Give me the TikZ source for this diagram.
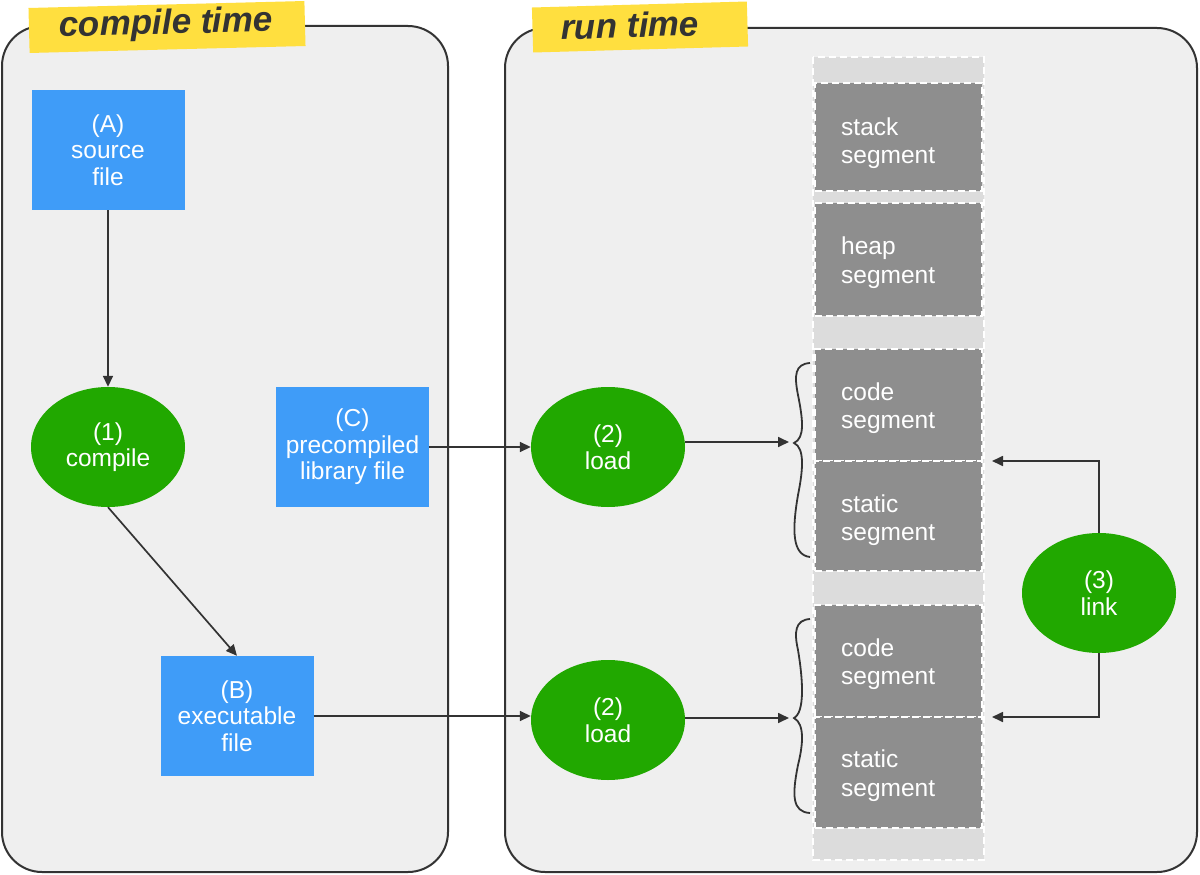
\documentclass[tikz,border=0pt]{standalone}
\usepackage{fontspec}
\setmainfont{Liberation Sans}
\usetikzlibrary{arrows.meta,shapes.geometric,calc}
\definecolor{panelfill}{HTML}{EFEFEF}
\definecolor{panelline}{HTML}{333333}
\definecolor{boxblue}{HTML}{3F9CF8}
\definecolor{opgreen}{HTML}{21A800}
\definecolor{bannercol}{HTML}{FFDF3F}
\definecolor{segdark}{HTML}{8E8E8E}
\definecolor{seglight}{HTML}{DCDCDC}
\definecolor{ink}{HTML}{333333}
\begin{document}
\begin{tikzpicture}[x=1pt,y=-1pt,
  panel/.style={draw=panelline,fill=panelfill,line width=2pt,rounded corners=40pt},
  bannerbox/.style={fill=bannercol,inner sep=0pt,minimum width=#1,minimum height=45pt},
  titletext/.style={text=ink,font=\fontsize{35}{40}\selectfont\bfseries\itshape,inner sep=0pt},
  lbl/.style={text=white,align=center,font=\fontsize{24.5}{26.5}\selectfont},
  filebox/.style={lbl,rectangle,fill=boxblue,minimum width=153pt,minimum height=120pt,inner sep=0pt},
  opnode/.style={lbl,ellipse,fill=opgreen,minimum width=154pt,minimum height=120pt,inner sep=0pt},
  strip/.style={fill=seglight,draw=white,line width=2pt,dash pattern=on 7pt off 4pt},
  seg/.style={rectangle,fill=segdark,draw=white,line width=2pt,dash pattern=on 7pt off 4pt,
     minimum width=167pt,inner sep=0pt},
  seglbl/.style={text=white,font=\fontsize{24.5}{28.5}\selectfont,align=left,inner sep=0pt,anchor=west},
  arr/.style={draw=ink,line width=1.7pt,-{Triangle[length=11pt,width=10pt]}},
  bracepath/.style={draw=ink,line width=1.8pt}
]
\useasboundingbox (0,0) rectangle (1200,875);
\fill[white] (0,0) rectangle (1200,875);

% panels
\draw[panel] (2,26) rectangle (448,872);
\draw[panel] (505,28) rectangle (1197,872);

% banners
\node[bannerbox=276pt,rotate=1.45] (bc) at (167,27) {};
\node[titletext,rotate=1.45] (tc) at (166,25) {compile time};
\node[bannerbox=215pt,rotate=1.6] (br) at (640,27) {};
\node[titletext,rotate=1.6] (tr) at (630,25) {run time};

% memory strip
\draw[strip] (813,57) rectangle (984,860);
\node[seg,minimum height=108pt] (stack) at (898.5,137) {};
\node[seg,minimum height=113pt] (heap) at (898.5,259.5) {};
\node[seg,minimum height=112pt] (code1) at (898.5,405) {};
\node[seg,minimum height=110pt] (stat1) at (898.5,516) {};
\node[seg,minimum height=112pt] (code2) at (898.5,661) {};
\node[seg,minimum height=111pt] (stat2) at (898.5,772.5) {};
\node[seglbl] (stackl) at ($(stack.west)+(27,6)$) {stack\\segment};
\node[seglbl] (heapl) at ($(heap.west)+(27,3)$) {heap\\segment};
\node[seglbl] (code1l) at ($(code1.west)+(27,3)$) {code\\segment};
\node[seglbl] (stat1l) at ($(stat1.west)+(27,4)$) {static\\segment};
\node[seglbl] (code2l) at ($(code2.west)+(27,3)$) {code\\segment};
\node[seglbl] (stat2l) at ($(stat2.west)+(27,3)$) {static\\segment};

% braces
\draw[bracepath] (810,363) .. controls (795,364) and (794,375) .. (798,395)
  .. controls (803,420) and (805,438) .. (794,443)
  .. controls (805,448) and (803,470) .. (798,495)
  .. controls (792,530) and (792,555) .. (810,557);
\draw[bracepath] (810,619) .. controls (795,620) and (794,632) .. (798,650)
  .. controls (803,680) and (805,712) .. (794,718)
  .. controls (805,724) and (803,745) .. (798,765)
  .. controls (792,795) and (792,812) .. (810,813);
\coordinate (brace1) at (789,442);
\coordinate (brace2) at (789,718);
\coordinate (lnk1) at (992,461);
\coordinate (lnk2) at (992,717);

% files and operations
\node[filebox] (A) at (108,150) {(A)\\source\\file};
\node[opnode] (comp) at (108,447) {(1)\\compile};
\node[filebox] (C) at (352.5,447) {(C)\\precompiled\\library file};
\node[filebox] (B) at (237,716) {(B)\\executable\\file};
\node[opnode] (load1) at (608,447) {(2)\\load};
\node[opnode] (load2) at (608,720) {(2)\\load};
\node[opnode] (link) at (1099,593) {(3)\\link};

% connectors
\draw[arr] (A.south) -- (comp.north);
\draw[arr] (comp.south) -- (B.north);
\draw[arr] (C.east) -- (load1.west);
\draw[arr] (B.east) -- (B.east -| load2.west);
\draw[arr] (load1.east |- brace1) -- (brace1);
\draw[arr] (load2.east |- brace2) -- (brace2);
\draw[arr] (link.north) |- (lnk1);
\draw[arr] (link.south) |- (lnk2);
\end{tikzpicture}
\end{document}
